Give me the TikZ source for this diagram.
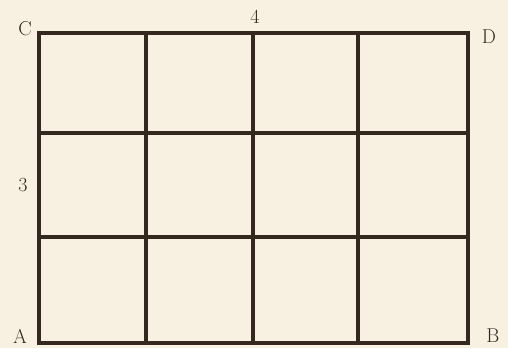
\documentclass[tikz,border=0pt]{standalone}
\definecolor{paper}{HTML}{F8F1E2}
\definecolor{ink}{HTML}{35291F}
\begin{document}
\begin{tikzpicture}[x=1pt,y=-1pt,
  gridline/.style={draw=ink,line width=3.2pt,line cap=rect},
  lab/.style={text=ink,font=\fontsize{20}{22}\selectfont,inner sep=0pt}]
\fill[paper] (0,0) rectangle (508,348);
\useasboundingbox (0,0) rectangle (508,348);
% grid coordinates
\coordinate (C) at (39,33);
\coordinate (D) at (468,33);
\coordinate (A) at (39,343);
\coordinate (B) at (468,343);
\foreach \x [count=\i] in {146,253,358} {
  \coordinate (t\i) at (\x,33);
  \coordinate (b\i) at (\x,343);
}
\foreach \y [count=\j] in {133,237} {
  \coordinate (l\j) at (39,\y);
  \coordinate (r\j) at (468,\y);
}
\draw[gridline] (C) -- (D) -- (B) -- (A) -- cycle;
\foreach \i in {1,2,3} \draw[gridline] (t\i) -- (b\i);
\foreach \j in {1,2} \draw[gridline] (l\j) -- (r\j);
% labels
\node[lab] (labC) at (25,29) {C};
\node[lab] (labD) at (489,37) {D};
\node[lab] (labA) at (20,336) {A};
\node[lab] (labB) at (493,336) {B};
\node[lab] (lab4) at (255,17) {4};
\node[lab] (lab3) at (23,185) {3};
\end{tikzpicture}
\end{document}
